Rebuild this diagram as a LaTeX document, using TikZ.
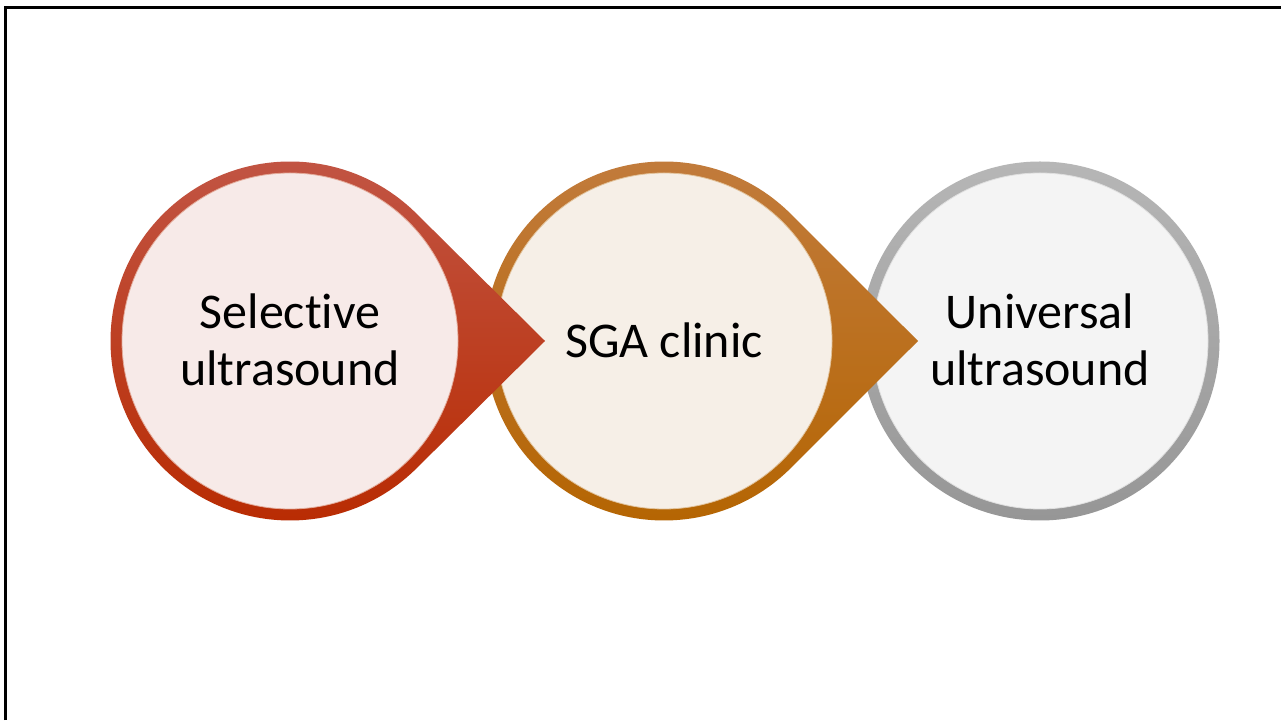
\documentclass[tikz,border=0pt]{standalone}
\usepackage{fontspec}
\setmainfont{Carlito}[Ligatures={NoCommon,NoContextual}]
\definecolor{redtop}{RGB}{194,86,70}
\definecolor{redbot}{RGB}{184,42,0}
\definecolor{redin}{RGB}{247,234,232}
\definecolor{orgtop}{RGB}{194,124,62}
\definecolor{orgbot}{RGB}{180,100,0}
\definecolor{orgin}{RGB}{246,239,231}
\definecolor{gratop}{RGB}{182,182,182}
\definecolor{grabot}{RGB}{150,150,150}
\definecolor{grain}{RGB}{244,244,244}
\begin{document}
\begin{tikzpicture}[x=1pt,y=1pt,
  txt/.style={align=center, font=\fontsize{50}{57}\selectfont, text=black, inner sep=0pt},
  frameline/.style={line width=3pt, black}]
\useasboundingbox (0,0) rectangle (1281,720);
\fill[white] (0,0) rectangle (1281,720);
\draw[frameline] (5.5,0) -- (5.5,712.5) -- (1281,712.5);
% third: gray ring
\shade[top color=gratop, bottom color=grabot] (1040,379) circle (179.5);
\fill[grain] (1040,379) circle (168);
\draw[white!70!grabot, line width=0.8pt] (1040,379) circle (168);
% second: orange teardrop
\shade[top color=orgtop, bottom color=orgbot]
  (918,379) -- ([shift={(664,379)}]45.1:179.5) arc[start angle=45.1, end angle=314.9, radius=179.5] -- cycle;
\fill[orgin] (664,379) circle (168);
\draw[white!60!orgbot, line width=0.8pt] (664,379) circle (168);
% first: red teardrop
\shade[top color=redtop, bottom color=redbot]
  (545,379) -- ([shift={(290,379)}]45.1:179.5) arc[start angle=45.1, end angle=314.9, radius=179.5] -- cycle;
\fill[redin] (290,379) circle (168);
\draw[white!60!redbot, line width=0.8pt] (290,379) circle (168);
% texts
\node[txt] (t1) at (290,380) {Selective\\ultrasound};
\node[txt] (t2) at (664,380) {SGA clinic};
\node[txt] (t3) at (1040,380) {Universal\\ultrasound};
\end{tikzpicture}
\end{document}
